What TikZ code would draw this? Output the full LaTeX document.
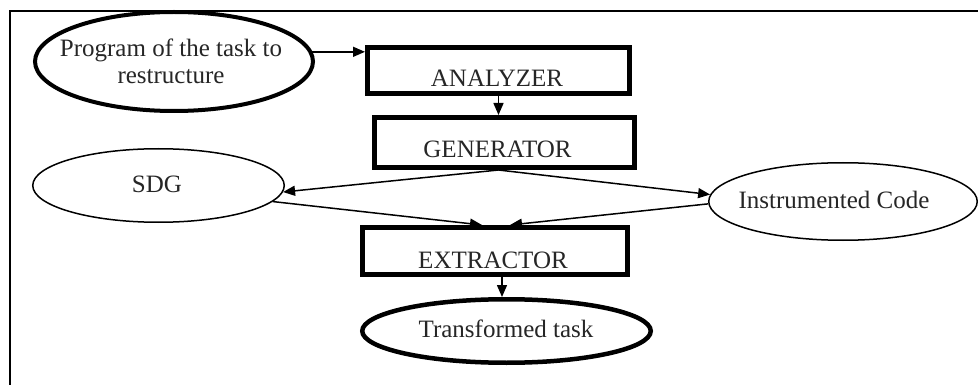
\documentclass[tikz,border=0pt]{standalone}
\usepackage{fontspec}
\setmainfont{Liberation Serif}
\usetikzlibrary{shapes.geometric,arrows.meta,calc}
\begin{document}
\begin{tikzpicture}[x=1pt,y=-1pt,
  bigell/.style={ellipse,draw,line width=4pt,inner sep=0pt},
  thinell/.style={ellipse,draw,line width=1.5pt,inner sep=0pt},
  boxnode/.style={rectangle,draw,line width=5pt,inner sep=0pt},
  txt/.style={font=\fontsize{25}{27}\selectfont,inner sep=0pt,text=black!85},
  arr/.style={line width=1.5pt,-{Triangle[length=12pt,width=10pt]}}]
\clip (0,0) rectangle (978,385);
\fill[white] (0,0) rectangle (978,385);
\draw[line width=2pt] (10,400) -- (10,11) -- (1000,11);
% nodes
\node[bigell,minimum width=278pt,minimum height=99pt] (prog) at (174,61.5) {};
\node[txt,align=center] (progt) at (171,61) {Program of the task to\\restructure};
\node[boxnode,minimum width=262pt,minimum height=46pt] (ana) at (498.5,70.5) {};
\node[txt,anchor=base] (anat) at (497,87) {ANALYZER};
\node[boxnode,minimum width=260pt,minimum height=50pt] (gen) at (504.5,142.5) {};
\node[txt,anchor=base] (gent) at (497.5,158) {GENERATOR};
\node[thinell,minimum width=251.5pt,minimum height=73.5pt] (sdg) at (158.5,185.5) {};
\node[txt,anchor=base] (sdgt) at (157,193) {SDG};
\node[thinell,minimum width=268.5pt,minimum height=77.5pt] (inst) at (843,201.5) {};
\node[txt,anchor=base] (instt) at (834,208) {Instrumented Code};
\node[boxnode,minimum width=265pt,minimum height=47pt] (ext) at (495,251) {};
\node[txt,anchor=base] (extt) at (493,268) {EXTRACTOR};
\node[bigell,line width=4.5pt,minimum width=288.5pt,minimum height=63.5pt] (tr) at (506.5,331) {};
\node[txt,anchor=base] (trt) at (506,337) {Transformed task};
% connectors
\coordinate (gs) at ($(gen.south)+(-6,0)$);
\coordinate (en) at (ext.north);
\coordinate (es) at ($(ext.south)+(7,0)$);
\draw[arr] (prog.4) -- (prog.4 -| ana.west);
\draw[arr] (ana.south) -- (ana.south |- gen.north);
\draw[arr] (gs) -- (sdg.-3);
\draw[arr] (gs) -- (inst.177);
\draw[arr] (sdg.-8) -- ($(en)+(-13,0)$);
\draw[arr] (inst.181) -- ($(en)+(15,0)$);
\draw[arr] (es) -- (es |- tr.north);
\end{tikzpicture}
\end{document}
